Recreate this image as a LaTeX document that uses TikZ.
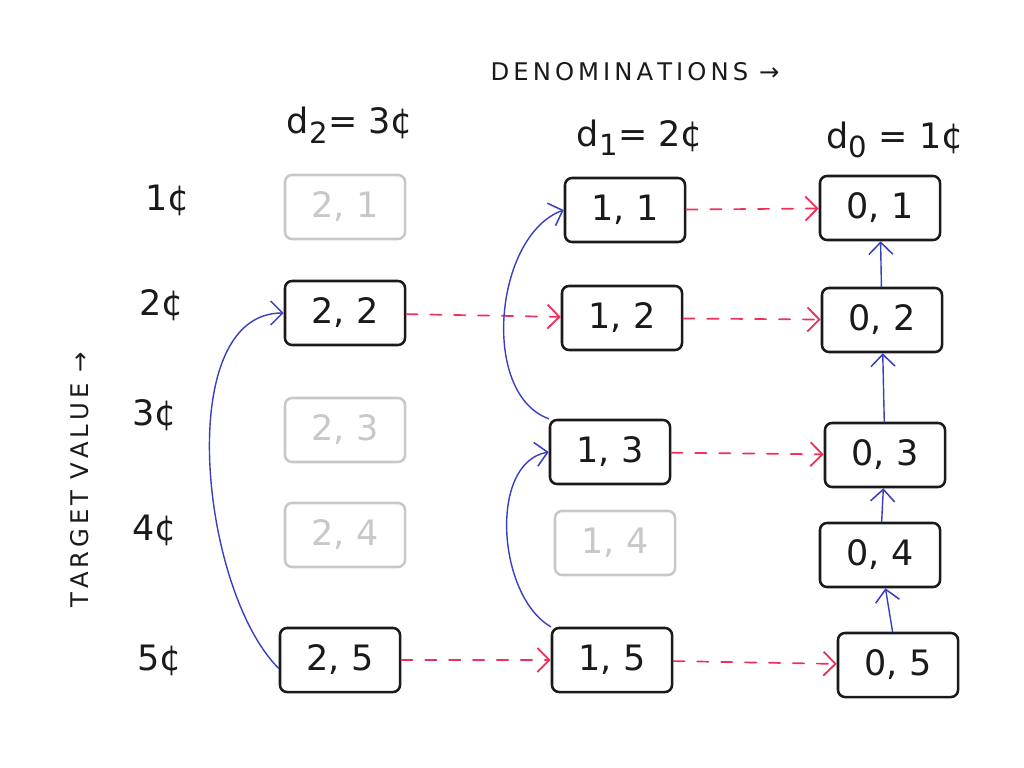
\documentclass[tikz,border=0pt]{standalone}
\usepackage{fontspec}
\setmainfont{DejaVu Sans}
\definecolor{ink}{HTML}{1A1A1A}
\definecolor{faded}{HTML}{C8C8C8}
\definecolor{link}{HTML}{3A3FC0}
\definecolor{carry}{HTML}{F0305A}
\usetikzlibrary{arrows.meta,positioning}
\tikzset{
  every picture/.style={line cap=round, line join=round},
  cell/.style={draw=ink, line width=1.8pt, rounded corners=5pt,
    minimum width=30mm, minimum height=16mm, font=\Huge, text=ink},
  ghost/.style={cell, draw=faded, text=faded},
  uplink/.style={-{Straight Barb[length=3mm, line width=1.1pt]}, draw=link, line width=1pt},
  across/.style={-{Straight Barb[length=3mm, line width=1.3pt]}, draw=carry, line width=1.2pt, dash pattern=on 8pt off 9pt},
  rowlab/.style={font=\Huge, text=ink},
  head/.style={font=\Huge, text=ink}
}
\begin{document}
\begin{tikzpicture}[x=0.025cm, y=-0.025cm]
  \useasboundingbox (0,0) rectangle (1024,768);
  % grid of cells
  \node[ghost] (c21) at (345,207) {2, 1};
  \node[cell]  (c22) at (345,313) {2, 2};
  \node[ghost] (c23) at (345,430) {2, 3};
  \node[ghost] (c24) at (345,535) {2, 4};
  \node[cell]  (c25) at (340,660) {2, 5};
  \node[cell]  (c11) at (625,210) {1, 1};
  \node[cell]  (c12) at (622,318) {1, 2};
  \node[cell]  (c13) at (610,452) {1, 3};
  \node[ghost] (c14) at (615,543) {1, 4};
  \node[cell]  (c15) at (612,660) {1, 5};
  \node[cell]  (c01) at (880,208) {0, 1};
  \node[cell]  (c02) at (882,320) {0, 2};
  \node[cell]  (c03) at (885,455) {0, 3};
  \node[cell]  (c04) at (880,555) {0, 4};
  \node[cell]  (c05) at (898,665) {0, 5};

  % labels
  \node[rowlab] (v1) at (168,200) {1\textcent};
  \node[rowlab] (v2) at (162,305) {2\textcent};
  \node[rowlab] (v3) at (155,415) {3\textcent};
  \node[rowlab] (v4) at (155,530) {4\textcent};
  \node[rowlab] (v5) at (160,660) {5\textcent};
  \node[head] (h2) at (350,125) {d\textsubscript{2}= 3\textcent};
  \node[head] (h1) at (640,138) {d\textsubscript{1}= 2\textcent};
  \node[head] (h0) at (895,140) {d\textsubscript{0} = 1\textcent};
  \node[font=\LARGE, text=ink] (den) at (635,72) {D\,E\,N\,O\,M\,I\,N\,A\,T\,I\,O\,N\,S\;\,→};
  \node[font=\LARGE, text=ink, rotate=90] (tv) at (80,480) {T\,A\,R\,G\,E\,T\;\,V\,A\,L\,U\,E\;\,→};

  % carry across
  \draw[across] (c22) -- (c12);
  \draw[across] (c25) -- (c15);
  \draw[across] (c11) -- (c01);
  \draw[across] (c12) -- (c02);
  \draw[across] (c13) -- (c03);
  \draw[across] (c15) -- (c05);

  % links upward
  \draw[uplink] ([yshift=-6pt]c25.west) to[out=135, in=180, looseness=0.8] (c22.west);
  \draw[uplink] (c15.north west) to[out=150, in=190, looseness=0.9] (c13.west);
  \draw[uplink] (c13.north west) to[out=160, in=200, looseness=0.9] (c11.west);
  \draw[uplink] (c05) -- (c04);
  \draw[uplink] (c04) -- (c03);
  \draw[uplink] (c03) -- (c02);
  \draw[uplink] (c02) -- (c01);
\end{tikzpicture}
\end{document}
